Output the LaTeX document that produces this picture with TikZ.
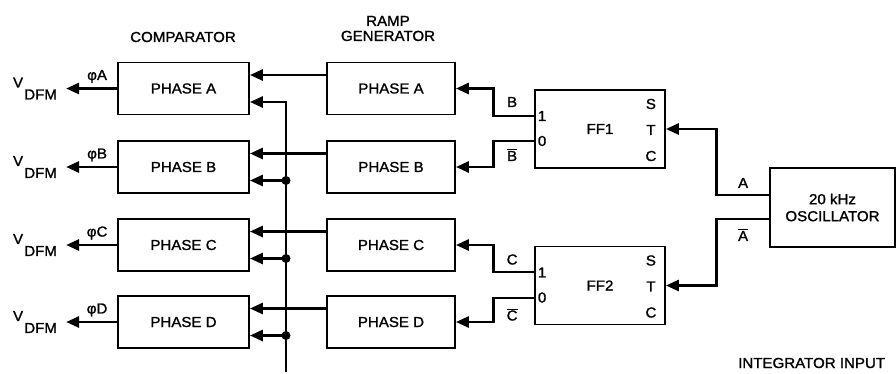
\documentclass[tikz,border=0pt]{standalone}
\usepackage{fontspec}
\setmainfont{Liberation Sans}[FakeStretch=1.04,FakeBold=1.3]
\usetikzlibrary{arrows.meta,calc}
\newcommand{\barlbl}[1]{$\overline{\mbox{#1}}$}
\begin{document}
\begin{tikzpicture}[x=1pt,y=-1pt,
  font=\fontsize{14.5}{17}\selectfont,
  blk/.style={draw,line width=1.8pt,inner sep=0pt,minimum height=52pt},
  cmpbox/.style={blk,minimum width=131pt},
  rmpbox/.style={blk,minimum width=128pt},
  ffbox/.style={blk,minimum width=130pt,minimum height=78pt},
  conn/.style={line width=2.8pt},
  arr/.style={-{Triangle[length=13pt,width=11pt]}},
  lbl/.style={inner sep=0pt},
  jdot/.style={circle,fill,inner sep=0pt,minimum size=9pt}]
\useasboundingbox (0,0) rectangle (896,373);

\node[lbl] (tcmp) at (183,37) {COMPARATOR};
\node[lbl,align=center] (tramp) at (388,28.5) {RAMP\\[-2pt]GENERATOR};

\coordinate (busend) at (286,372);

\foreach \n/\y in {A/88.5,B/167,C/245,D/322} {
  \node[cmpbox] (c\n) at (183.5,\y) {PHASE \n};
  \node[rmpbox] (r\n) at (391,\y) {PHASE \n};
  \coordinate (t\n) at ([yshift=13.5pt]c\n.east);
  \coordinate (b\n) at ([yshift=-13.5pt]c\n.east);
  \coordinate (o\n) at ([xshift=-51pt]c\n.west);
  \draw[conn,arr] (r\n.west |- t\n) -- (t\n);
  \draw[conn,arr] (c\n.west) -- (o\n);
  \node[lbl] (p\n) at ([xshift=-20pt,yshift=12pt]c\n.west) {φ\n};
  \node[lbl] (v\n) at ([xshift=-99pt,yshift=6pt]c\n.west) {V};
  \node[lbl,anchor=west] (d\n) at ([xshift=-93pt,yshift=-6pt]c\n.west) {DFM};
}

\draw[conn,arr] (busend) |- (bA);
\foreach \n in {B,C,D} {
  \node[jdot] (j\n) at (b\n -| busend) {};
  \draw[conn,arr] (j\n.center) -- (b\n);
}

% flip-flops
\node[ffbox] (ff1) at (600,129) {FF1};
\node[ffbox] (ff2) at (600,285.5) {FF2};

\foreach \f in {ff1,ff2} {
  \node[lbl] (\f one) at ([xshift=8pt,yshift=13pt]\f.west) {1};
  \node[lbl] (\f zero) at ([xshift=8pt,yshift=-12pt]\f.west) {0};
  \node[lbl] (\f S) at ([xshift=-15pt,yshift=25pt]\f.east) {S};
  \node[lbl] (\f T) at ([xshift=-15pt,yshift=-1pt]\f.east) {T};
  \node[lbl] (\f C) at ([xshift=-15pt,yshift=-27pt]\f.east) {C};
}

\draw[conn,arr] ([yshift=13pt]ff1.west) -- ++(-41pt,0) |- (rA.east);
\draw[conn,arr] ([yshift=-12pt]ff1.west) -- ++(-41pt,0) |- (rB.east);
\draw[conn,arr] ([yshift=13.5pt]ff2.west) -- ++(-41pt,0) |- (rC.east);
\draw[conn,arr] ([yshift=-12.5pt]ff2.west) -- ++(-41pt,0) |- (rD.east);

\node[lbl] (lB) at ([xshift=-22pt,yshift=27pt]ff1.west) {B};
\node[lbl] (lBb) at ([xshift=-22pt,yshift=-26pt]ff1.west) {\barlbl{B}};
\node[lbl] (lC) at ([xshift=-22pt,yshift=26pt]ff2.west) {C};
\node[lbl] (lCb) at ([xshift=-22pt,yshift=-29pt]ff2.west) {\barlbl{C}};

% oscillator
\node[blk,minimum width=125pt,minimum height=79pt,align=center] (osc) at (832.5,207.5) {20 kHz\\[0pt]OSCILLATOR};
\draw[conn,arr] ([yshift=12.5pt]osc.west) -- ++(-53pt,0) |- (ff1.east);
\draw[conn,arr] ([yshift=-11.5pt]osc.west) -- ++(-53pt,0) |- (ff2.east);
\node[lbl] (lA) at ([xshift=-26pt,yshift=24.5pt]osc.west) {A};
\node[lbl] (lAb) at ([xshift=-26pt,yshift=-27.5pt]osc.west) {\barlbl{A}};

\node[lbl,anchor=west] (integ) at (738,363) {INTEGRATOR INPUT};
\end{tikzpicture}
\end{document}
